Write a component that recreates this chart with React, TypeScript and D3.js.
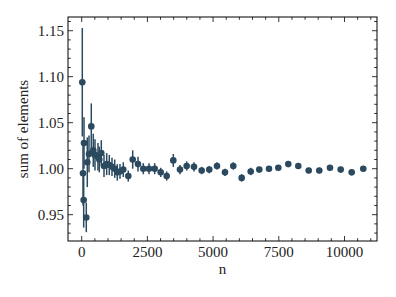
import * as d3 from 'd3';

// sample size, mean of the sum, error (std)
const nValues = [
  23, 50, 76, 88, 175, 213, 278, 365, 441, 506, 620, 670, 746, 849, 951, 1050, 1153, 1256,
  1355, 1457, 1583, 1773, 1941, 2142, 2344, 2561, 2778, 3006, 3234, 3486, 3740, 3995, 4273,
  4566, 4855, 5148, 5453, 5769, 6088, 6431, 6758, 7127, 7481, 7861, 8242, 8638, 9041, 9448,
  9855, 10274, 10715,
];
const sums = [
  1.094, 0.995, 0.966, 1.028, 0.947, 1.007, 1.016, 1.046, 1.02, 1.015, 1.013, 1.01, 1.017,
  1.003, 1.005, 1.004, 1.002, 1.0, 0.996, 0.997, 0.999, 0.992, 1.01, 1.005, 1.0, 1.0, 1.0,
  0.996, 0.992, 1.009, 0.999, 1.003, 1.002, 0.998, 0.999, 1.003, 0.996, 1.003, 0.99, 0.997,
  0.999, 1.0, 1.001, 1.005, 1.003, 0.998, 0.998, 1.001, 0.999, 0.996, 1.0,
];
const errors = [
  0.059, 0.035, 0.03, 0.028, 0.016, 0.027, 0.02, 0.025, 0.018, 0.017, 0.015, 0.014, 0.014,
  0.012, 0.012, 0.011, 0.01, 0.01, 0.009, 0.008, 0.008, 0.006, 0.01, 0.008, 0.006, 0.006,
  0.006, 0.005, 0.005, 0.007, 0.005, 0.005, 0.005, 0.004, 0.004, 0.004, 0.004, 0.004, 0.004,
  0.004, 0.003, 0.003, 0.003, 0.003, 0.003, 0.003, 0.003, 0.003, 0.003, 0.003, 0.003,
];
const xTicks = [0, 2500, 5000, 7500, 10000];
const yTicks = [0.95, 1.0, 1.05, 1.1, 1.15];

const W = 396;
const H = 297;
const margin = { top: 17, right: 19, bottom: 56, left: 68 };
const color = '#2b4a5f';
const font = 'Liberation Serif, serif';

export default function App() {
  const x = d3.scaleLinear().domain([-521, 11237]).range([margin.left, W - margin.right]);
  const y = d3.scaleLinear().domain([0.9214, 1.1649]).range([H - margin.bottom, margin.top]);

  const [x0, x1] = x.range();
  const [y0, y1] = y.range();

  const xMinor = d3.range(0, 11001, 500).filter((v) => v % 2500 !== 0);
  const yMinor = d3.range(93, 117).map((v) => v / 100).filter((v) => Math.round(v * 100) % 5 !== 0);

  return (
    <svg width={W} height={H} style={{ position: 'absolute', left: 0, top: 0 }}>
      <rect width={W} height={H} fill="white" />
      {/* error bars */}
      {nValues.map((n, i) => (
        <line
          key={'e' + i}
          x1={x(n)}
          x2={x(n)}
          y1={y(sums[i] - errors[i])}
          y2={y(sums[i] + errors[i])}
          stroke={color}
          strokeWidth={1.5}
        />
      ))}
      {nValues.map((n, i) => (
        <circle key={'p' + i} cx={x(n)} cy={y(sums[i])} r={3.3} fill={color} />
      ))}
      {/* ticks, all four sides, inward */}
      <g stroke="black" strokeWidth={0.8}>
        {xTicks.map((t) => (
          <g key={'xt' + t}>
            <line x1={x(t)} x2={x(t)} y1={y0} y2={y0 - 5} />
            <line x1={x(t)} x2={x(t)} y1={y1} y2={y1 + 5} />
          </g>
        ))}
        {xMinor.map((t) => (
          <g key={'xm' + t}>
            <line x1={x(t)} x2={x(t)} y1={y0} y2={y0 - 2.8} />
            <line x1={x(t)} x2={x(t)} y1={y1} y2={y1 + 2.8} />
          </g>
        ))}
        {yTicks.map((t) => (
          <g key={'yt' + t}>
            <line x1={x0} x2={x0 + 5} y1={y(t)} y2={y(t)} />
            <line x1={x1} x2={x1 - 5} y1={y(t)} y2={y(t)} />
          </g>
        ))}
        {yMinor.map((t) => (
          <g key={'ym' + t}>
            <line x1={x0} x2={x0 + 2.8} y1={y(t)} y2={y(t)} />
            <line x1={x1} x2={x1 - 2.8} y1={y(t)} y2={y(t)} />
          </g>
        ))}
      </g>
      <rect x={x0} y={y1} width={x1 - x0} height={y0 - y1} fill="none" stroke="black" strokeWidth={1} />
      {/* tick labels */}
      <g style={{ fontFamily: font, fontSize: '15px' }} fill="#222">
        {xTicks.map((t) => (
          <text key={'xl' + t} x={x(t)} y={y0 + 16} textAnchor="middle">
            {t}
          </text>
        ))}
        {yTicks.map((t) => (
          <text key={'yl' + t} x={x0 - 4} y={y(t) + 5} textAnchor="end">
            {d3.format('.2f')(t)}
          </text>
        ))}
        <text x={(x0 + x1) / 2} y={y0 + 33} textAnchor="middle">
          n
        </text>
        <text
          transform={`translate(${28},${(y0 + y1) / 2}) rotate(-90)`}
          textAnchor="middle"
        >
          sum of elements
        </text>
      </g>
    </svg>
  );
}
